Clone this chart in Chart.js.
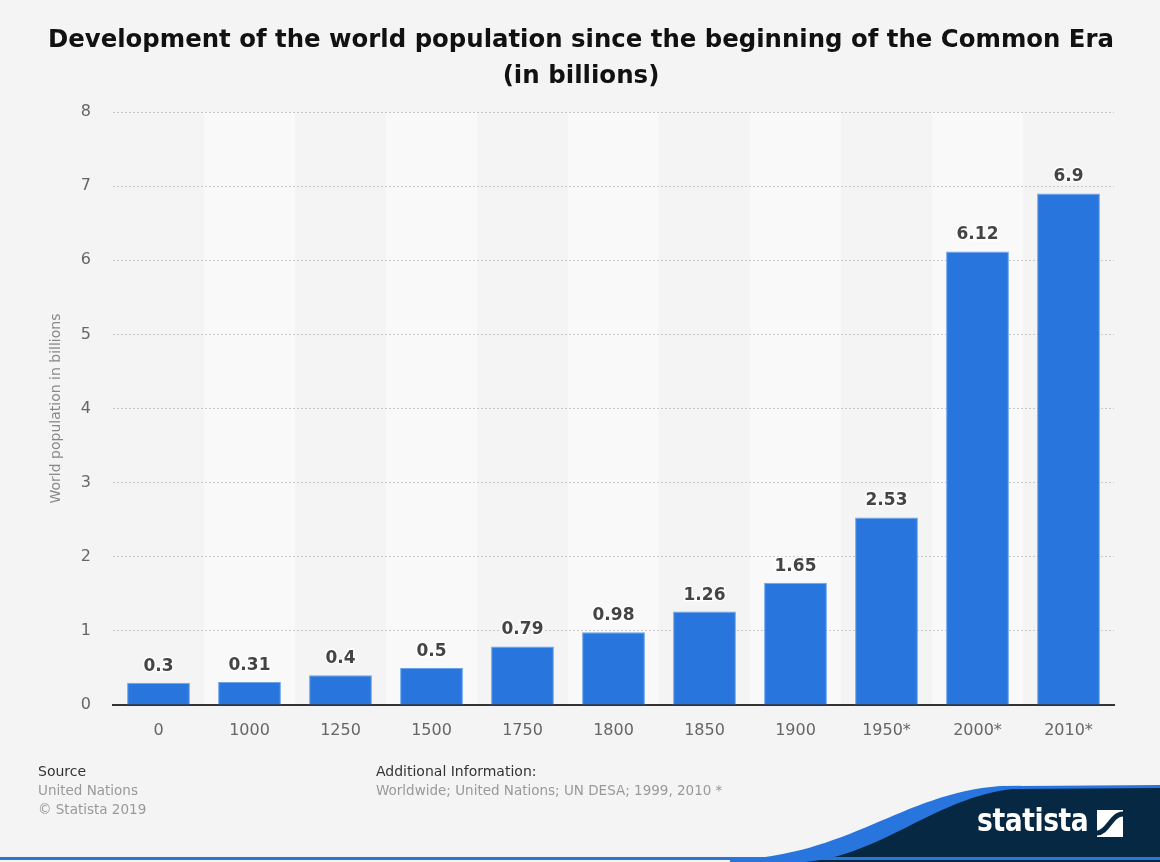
<!DOCTYPE html>
<html>
<head>
<meta charset="utf-8">
<title>World population</title>
<script src="https://cdn.jsdelivr.net/npm/chart.js@4.4.1/dist/chart.umd.min.js"></script>
<style>
  html, body { margin: 0; padding: 0; background: #f4f4f4; }
  #wrap { position: relative; width: 1160px; height: 862px; overflow: hidden; font-family: "DejaVu Sans", sans-serif; }
  #chartBox { position: absolute; left: 0; top: 0; width: 1160px; height: 862px; }
  .foot { position: absolute; font-size: 13.5px; line-height: 19px; }
  .foot .head { color: #333; font-size: 14px; }
  .foot .sub { color: #999; }
  #swoosh { position: absolute; left: 0; top: 760px; }
  #logo { position: absolute; left: 977px; top: 802px; color: #fff; font-family: "DejaVu Sans", sans-serif;
          font-weight: bold; font-size: 32px; line-height: 36px; letter-spacing: -0.5px; transform: scaleX(0.83); transform-origin: left top; }
</style>
</head>
<body>
<div id="wrap">
  <div id="chartBox"><canvas id="popChart"></canvas></div>

  <svg id="swoosh" width="1160" height="102" viewBox="0 0 1160 102">
    <path d="M730 100 C 850 96, 900 34, 1000 26 L 1160 25 L 1160 102 L 730 102 Z" fill="#2876dd"/>
    <path d="M805 102 C 880 96, 935 38, 1012 29 L 1160 28 L 1160 102 Z" fill="#062842"/>
    <rect x="0" y="97" width="1160" height="3" fill="#2876dd"/>
    <rect x="1097" y="50" width="26" height="27" fill="#fff"/>
    <path d="M1097 73 C 1108 73, 1111 54, 1123 54" stroke="#062842" stroke-width="5" fill="none"/>
  </svg>
  <div id="logo">statista</div>

  <div class="foot" style="left:38px; top:762px;">
    <div class="head">Source</div>
    <div class="sub">United Nations</div>
    <div class="sub">© Statista 2019</div>
  </div>
  <div class="foot" style="left:376px; top:762px;">
    <div class="head">Additional Information:</div>
    <div class="sub">Worldwide; United Nations; UN DESA; 1999, 2010 *</div>
  </div>
</div>

<script>
// Data
const years = ['0', '1000', '1250', '1500', '1750', '1800', '1850', '1900', '1950*', '2000*', '2010*'];
const population = [0.3, 0.31, 0.4, 0.5, 0.79, 0.98, 1.26, 1.65, 2.53, 6.12, 6.9];
const valueLabels = ['0.3', '0.31', '0.4', '0.5', '0.79', '0.98', '1.26', '1.65', '2.53', '6.12', '6.9'];

// alternating column shading behind the bars
const bandPlugin = {
    id: 'bands',
    beforeDraw(chart) {
        const { ctx, chartArea, scales } = chart;
        const step = (chartArea.right - chartArea.left) / years.length;
        ctx.save();
        ctx.fillStyle = '#f9f9f9';
        years.forEach((y, i) => {
            if (i % 2 === 1) {
                const cx = scales.x.getPixelForValue(i);
                ctx.fillRect(cx - step / 2, chartArea.top, step, chartArea.bottom - chartArea.top);
            }
        });
        ctx.restore();
    }
};

// value labels above bars
const labelPlugin = {
    id: 'valueLabels',
    afterDatasetsDraw(chart) {
        const { ctx } = chart;
        const meta = chart.getDatasetMeta(0);
        ctx.save();
        ctx.font = 'bold 17px "DejaVu Sans", sans-serif';
        ctx.textAlign = 'center';
        ctx.textBaseline = 'bottom';
        ctx.lineWidth = 3;
        ctx.strokeStyle = 'rgba(255,255,255,0.8)';
        ctx.fillStyle = '#444';
        meta.data.forEach((bar, i) => {
            ctx.strokeText(valueLabels[i], bar.x, bar.y - 8);
            ctx.fillText(valueLabels[i], bar.x, bar.y - 8);
        });
        ctx.restore();
    }
};

const ctx = document.getElementById('popChart').getContext('2d');
new Chart(ctx, {
    type: 'bar',
    data: {
        labels: years,
        datasets: [{
            data: population,
            backgroundColor: '#2876dd',
            borderColor: '#6aa3ea',
            borderWidth: 1,
            borderSkipped: 'bottom',
            categoryPercentage: 1,
            barPercentage: 0.69
        }]
    },
    options: {
        responsive: true,
        maintainAspectRatio: false,
        animation: false,
        layout: { padding: { left: 48, right: 46, bottom: 117 } },
        plugins: {
            legend: { display: false },
            tooltip: { enabled: false },
            title: {
                display: true,
                text: ['Development of the world population since the beginning of the Common Era', '(in billions)'],
                color: '#111',
                font: { family: '"DejaVu Sans", sans-serif', size: 24.5, weight: 'bold', lineHeight: 1.47 },
                padding: { top: 23, bottom: 17 }
            }
        },
        scales: {
            x: {
                grid: { display: false },
                border: { display: true, color: '#333', width: 2 },
                ticks: { color: '#666', font: { family: '"DejaVu Sans", sans-serif', size: 16 }, padding: 8 },
                afterFit: s => { s.height = 40; }
            },
            y: {
                min: 0,
                max: 8,
                ticks: { stepSize: 1, color: '#666', font: { family: '"DejaVu Sans", sans-serif', size: 16 }, padding: 22 },
                grid: { color: '#c8c8c8', drawTicks: false, lineWidth: 1 },
                border: { display: false, dash: [2, 2] },
                title: {
                    display: true,
                    text: 'World population in billions',
                    color: '#888',
                    font: { family: '"DejaVu Sans", sans-serif', size: 14 },
                    padding: { top: 0, bottom: 0 }
                },
                afterFit: s => { s.width = 65; }
            }
        }
    },
    plugins: [bandPlugin, labelPlugin]
});
</script>
</body>
</html>
